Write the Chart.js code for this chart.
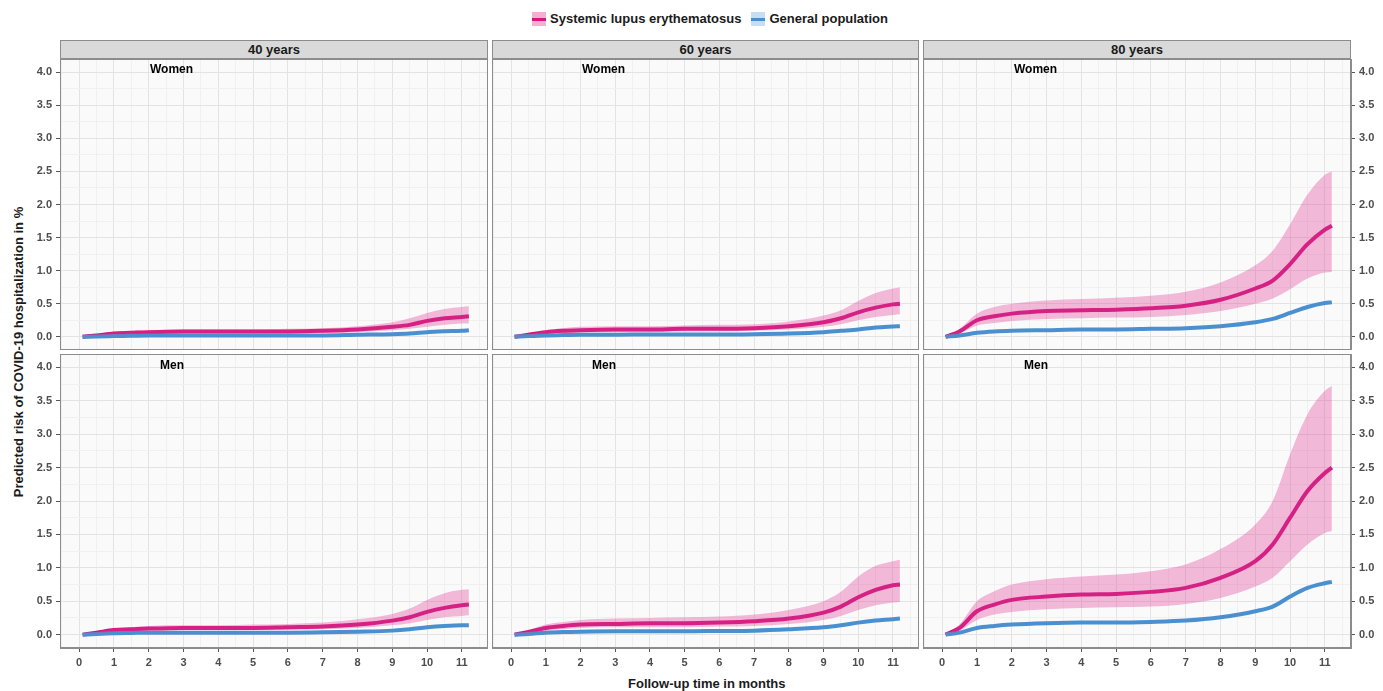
<!DOCTYPE html>
<html>
<head>
<meta charset="UTF-8">
<script src="https://cdn.jsdelivr.net/npm/chart.js"></script>
<style>
  body { margin:0; background:#fff; font-family:'Liberation Sans', Arial, sans-serif; width:1383px; height:691px; position:relative; overflow:hidden; }
  .abs { position:absolute; }
  .strip { position:absolute; background:#d9d9d9; border:1px solid #8c8c8c; box-sizing:border-box; text-align:center; font-weight:bold; font-size:13px; line-height:17px; color:#1a1a1a; }
  .lab { position:absolute; font-weight:bold; font-size:12px; color:#000; }
  canvas { position:absolute; }
</style>
</head>
<body>
<div class="abs" style="left:532px;top:11px;font-weight:bold;font-size:13px;color:#1a1a1a;display:flex;align-items:center;gap:4px">
  <span style="display:inline-block;width:14px;height:14px;background:rgba(220,30,130,0.35);position:relative"><span style="position:absolute;left:0;top:6px;width:14px;height:3px;background:#d6177f"></span></span>
  <span style="margin-right:6px">Systemic lupus erythematosus</span>
  <span style="display:inline-block;width:14px;height:14px;background:rgba(74,144,208,0.3);position:relative"><span style="position:absolute;left:0;top:6px;width:14px;height:3px;background:#4a90d0"></span></span>
  <span>General population</span>
</div>
<div class="strip" style="left:60px;top:40px;width:428px;height:19px">40 years</div>
<div class="strip" style="left:492px;top:40px;width:427px;height:19px">60 years</div>
<div class="strip" style="left:923px;top:40px;width:428px;height:19px">80 years</div>
<div class="abs" style="left:628px;top:676px;font-weight:bold;font-size:13px;color:#1a1a1a">Follow-up time in months</div>
<div class="abs" style="left:18px;top:352px;font-weight:bold;font-size:13px;color:#1a1a1a;transform:translate(-50%,-50%) rotate(-90deg);white-space:nowrap">Predicted risk of COVID-19 hospitalization in %</div>

<canvas id="c0"></canvas><canvas id="c1"></canvas><canvas id="c2"></canvas>
<canvas id="c3"></canvas><canvas id="c4"></canvas><canvas id="c5"></canvas>
<div class="lab" style="left:150px;top:62px">Women</div>
<div class="lab" style="left:582px;top:62px">Women</div>
<div class="lab" style="left:1014px;top:62px">Women</div>
<div class="lab" style="left:160px;top:358px">Men</div>
<div class="lab" style="left:592px;top:358px">Men</div>
<div class="lab" style="left:1024px;top:358px">Men</div>
<script>
const months = [0.1,0.5,1,1.5,2,3,4,5,6,7,8,9,9.5,10,10.5,11,11.2];

const sle40W = [0,0.02,0.05,0.06,0.07,0.08,0.08,0.08,0.08,0.09,0.11,0.15,0.18,0.24,0.28,0.30,0.31];
const sle40WHi = [0,0.03,0.07,0.09,0.10,0.11,0.11,0.11,0.12,0.13,0.16,0.22,0.28,0.36,0.42,0.45,0.46];
const sle40WLo = [0,0.01,0.03,0.04,0.05,0.05,0.05,0.05,0.05,0.06,0.07,0.10,0.12,0.15,0.18,0.20,0.20];
const gp40W = [0,0.005,0.01,0.015,0.02,0.02,0.02,0.02,0.02,0.02,0.03,0.04,0.05,0.07,0.085,0.09,0.10];

const sle60W = [0,0.03,0.07,0.09,0.10,0.11,0.11,0.12,0.12,0.13,0.16,0.22,0.28,0.37,0.44,0.49,0.50];
const sle60WHi = [0,0.04,0.10,0.13,0.15,0.16,0.16,0.17,0.18,0.19,0.23,0.32,0.40,0.54,0.66,0.73,0.75];
const sle60WLo = [0,0.02,0.05,0.06,0.07,0.07,0.07,0.08,0.08,0.09,0.11,0.15,0.19,0.25,0.30,0.33,0.34];
const gp60W = [0,0.01,0.02,0.025,0.03,0.03,0.035,0.035,0.035,0.04,0.05,0.07,0.09,0.11,0.14,0.155,0.16];

const sle80W = [0,0.08,0.25,0.31,0.35,0.39,0.40,0.41,0.43,0.47,0.56,0.73,0.85,1.10,1.40,1.62,1.68];
const sle80WHi = [0,0.12,0.35,0.45,0.50,0.55,0.57,0.59,0.62,0.68,0.82,1.08,1.30,1.70,2.15,2.45,2.50];
const sle80WLo = [0,0.05,0.17,0.21,0.24,0.27,0.28,0.29,0.30,0.33,0.39,0.50,0.58,0.72,0.88,0.97,0.98];
const gp80W = [0,0.02,0.06,0.08,0.09,0.10,0.11,0.11,0.12,0.13,0.16,0.22,0.27,0.36,0.45,0.51,0.52];

const sle40M = [0,0.03,0.07,0.08,0.09,0.10,0.10,0.10,0.11,0.12,0.15,0.21,0.26,0.34,0.40,0.44,0.45];
const sle40MHi = [0,0.04,0.09,0.11,0.13,0.14,0.14,0.15,0.16,0.18,0.23,0.31,0.39,0.52,0.62,0.67,0.68];
const sle40MLo = [0,0.02,0.04,0.05,0.06,0.07,0.07,0.07,0.07,0.08,0.10,0.14,0.17,0.22,0.26,0.28,0.29];
const gp40M = [0,0.01,0.02,0.025,0.03,0.03,0.03,0.03,0.03,0.035,0.045,0.06,0.08,0.11,0.13,0.14,0.14];

const sle60M = [0,0.04,0.10,0.13,0.15,0.16,0.17,0.17,0.18,0.20,0.24,0.33,0.42,0.56,0.67,0.74,0.75];
const sle60MHi = [0,0.06,0.15,0.19,0.22,0.24,0.25,0.26,0.27,0.30,0.37,0.50,0.64,0.87,1.03,1.10,1.12];
const sle60MLo = [0,0.02,0.06,0.08,0.10,0.11,0.11,0.11,0.12,0.13,0.16,0.22,0.28,0.37,0.44,0.48,0.49];
const gp60M = [0,0.01,0.03,0.04,0.045,0.05,0.05,0.05,0.055,0.06,0.08,0.11,0.14,0.18,0.21,0.23,0.24];

const sle80M = [0,0.10,0.35,0.45,0.52,0.57,0.60,0.61,0.64,0.70,0.85,1.10,1.35,1.75,2.15,2.42,2.50];
const sle80MHi = [0,0.15,0.50,0.65,0.75,0.83,0.87,0.90,0.95,1.05,1.28,1.65,2.00,2.70,3.30,3.65,3.72];
const sle80MLo = [0,0.06,0.22,0.30,0.34,0.38,0.40,0.41,0.42,0.46,0.55,0.72,0.85,1.10,1.35,1.52,1.55];
const gp80M = [0,0.03,0.10,0.13,0.15,0.17,0.18,0.18,0.19,0.21,0.26,0.35,0.42,0.57,0.70,0.77,0.79];

const xTicks = [];
for (let v = -0.5; v <= 11.5; v += 0.5) xTicks.push(v);
const yTicks = [];
for (let v = 0; v <= 4.0001; v += 0.25) yTicks.push(Math.round(v * 100) / 100);

const tickFont = { family: 'Liberation Sans', weight: 'bold', size: 11 };
const pts = arr => arr.map((y, i) => ({ x: months[i], y }));
const isMajorX = v => Number.isInteger(v) && v >= 0 && v <= 11;
const isMajorY = v => Math.round(v * 100) % 50 === 0;

// col: 0 left, 1 middle, 2 right; row: 0 top, 1 bottom
function panel(id, col, row, sle, hi, lo, gp) {
  const panelLeft = [60, 492, 923][col];
  const panelW = col === 1 ? 427 : 428;
  const left = col === 0 ? 25 : panelLeft;
  const width = col === 1 ? panelW : panelW + 35;
  const top = row === 0 ? 59 : 354;
  const height = row === 0 ? 291 : 294 + 26;
  const cv = document.getElementById(id);
  cv.style.left = left + 'px'; cv.style.top = top + 'px';
  cv.style.width = width + 'px'; cv.style.height = height + 'px';
  cv.width = width; cv.height = height;

  const line = (data, color, w) => ({ data: pts(data), borderColor: color, borderWidth: w, pointRadius: 0, fill: false, cubicInterpolationMode: 'monotone' });
  new Chart(cv, {
    type: 'line',
    data: { datasets: [
      { data: pts(hi), borderWidth: 0, pointRadius: 0, fill: '+1', backgroundColor: 'rgba(225,60,150,0.35)', cubicInterpolationMode: 'monotone' },
      { data: pts(lo), borderWidth: 0, pointRadius: 0, fill: false, cubicInterpolationMode: 'monotone' },
      line(gp, '#4a90d0', 4),
      line(sle, '#cf137c', 4)
    ]},
    options: {
      responsive: false, animation: false, maintainAspectRatio: false,
      layout: { padding: 0 },
      plugins: { legend: { display: false }, tooltip: { enabled: false } },
      scales: {
        x: {
          type: 'linear', min: -0.55, max: 11.75,
          display: true,
          afterBuildTicks: s => { s.ticks = xTicks.map(v => ({ value: v })); },
          afterFit: s => { s.height = row === 1 ? 26 : 0; s.paddingLeft = 0; s.paddingRight = 0; },
          ticks: { display: row === 1, autoSkip: false, maxRotation: 0, color: '#4d4d4d', font: tickFont, padding: 4,
            callback: v => isMajorX(v) ? String(v) : '' },
          grid: { color: ctx => Number.isInteger(ctx.tick.value) ? '#e3e3e3' : '#f0f0f0', drawTicks: row === 1, tickLength: 4,
            tickColor: ctx => isMajorX(ctx.tick.value) ? '#555' : 'rgba(0,0,0,0)' },
          border: { display: true, color: '#8c8c8c' }
        },
        y: {
          type: 'linear', min: -0.2, max: 4.2,
          position: col === 2 ? 'right' : 'left',
          afterBuildTicks: s => { s.ticks = yTicks.map(v => ({ value: v })); },
          afterFit: s => { s.width = col === 1 ? 0 : 35; s.paddingTop = 0; s.paddingBottom = 0; },
          ticks: { display: col !== 1, autoSkip: false, color: '#4d4d4d', font: tickFont, padding: 4,
            callback: v => isMajorY(v) ? v.toFixed(1) : '' },
          grid: { color: ctx => isMajorY(ctx.tick.value) ? '#e3e3e3' : '#f0f0f0', drawTicks: col !== 1, tickLength: 4,
            tickColor: ctx => isMajorY(ctx.tick.value) ? '#555' : 'rgba(0,0,0,0)' },
          border: { display: true, color: '#8c8c8c' }
        }
      }
    },
    plugins: [{
      id: 'frame',
      beforeDraw: c => { const a = c.chartArea; c.ctx.fillStyle = '#fafafa'; c.ctx.fillRect(a.left, a.top, a.right - a.left, a.bottom - a.top); },
      afterDraw: c => { const a = c.chartArea, g = c.ctx; g.save(); g.strokeStyle = '#8c8c8c'; g.lineWidth = 1; g.strokeRect(a.left + 0.5, a.top + 0.5, a.right - a.left - 1, a.bottom - a.top - 1); g.restore(); }
    }]
  });
}

panel('c0', 0, 0, sle40W, sle40WHi, sle40WLo, gp40W);
panel('c1', 1, 0, sle60W, sle60WHi, sle60WLo, gp60W);
panel('c2', 2, 0, sle80W, sle80WHi, sle80WLo, gp80W);
panel('c3', 0, 1, sle40M, sle40MHi, sle40MLo, gp40M);
panel('c4', 1, 1, sle60M, sle60MHi, sle60MLo, gp60M);
panel('c5', 2, 1, sle80M, sle80MHi, sle80MLo, gp80M);
</script>
</body>
</html>
